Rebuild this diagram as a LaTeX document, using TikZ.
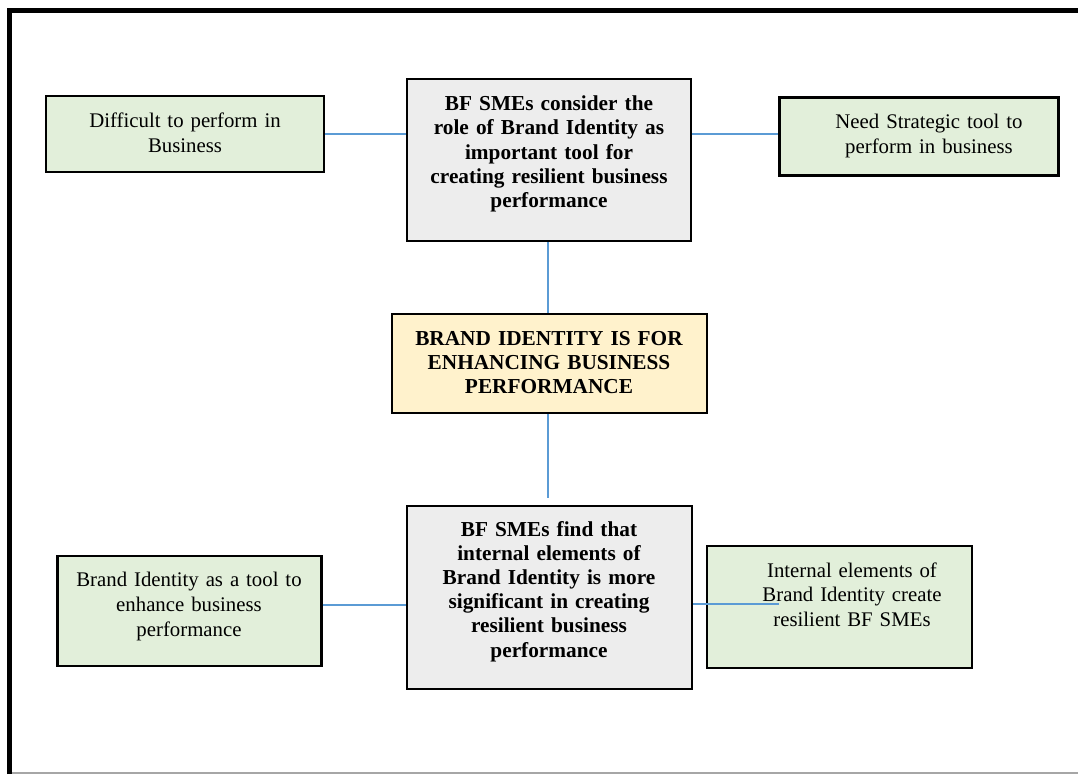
\documentclass[tikz,border=0pt]{standalone}
\usepackage{fontspec}
\setmainfont{Liberation Serif}
\definecolor{boxgreen}{HTML}{E2EFDA}
\definecolor{boxgray}{HTML}{EDEDED}
\definecolor{boxyellow}{HTML}{FFF2CC}
\definecolor{linkblue}{HTML}{5B9BD5}
\definecolor{framegray}{HTML}{A6A6A6}
\tikzset{
  boxbase/.style={draw=black, line width=2.4pt, rectangle, inner sep=0pt},
  greenbox/.style={boxbase, fill=boxgreen},
  graybox/.style={boxbase, fill=boxgray},
  yellowbox/.style={boxbase, fill=boxyellow},
  regtxt/.style={anchor=base, align=center, text width=320pt, inner sep=0pt,
    font={\fontsize{20.8}{24.8}\selectfont}},
  boldtxt/.style={anchor=base, align=center, text width=320pt, inner sep=0pt,
    font={\fontsize{21.3}{24.2}\selectfont\bfseries}},
  link/.style={draw=linkblue, line width=1.3pt},
}
\begin{document}
\begin{tikzpicture}[x=1pt, y=-1pt]
\useasboundingbox (0,0) rectangle (1078,774);
% outer frame
\draw[line width=5pt, line join=miter] (9,774) -- (9,10) -- (1078,10);
\draw[framegray, line width=1.2pt] (12,773) -- (1078,773);

% boxes
\node[greenbox, minimum width=278pt, minimum height=76pt] (tl) at (185,134) {};
\node[graybox, minimum width=284pt, minimum height=162pt] (tc) at (549,160) {};
\node[greenbox, minimum width=279pt, minimum height=78pt] (tr) at (919,136.5) {};
\node[yellowbox, minimum width=315pt, minimum height=99pt] (mid) at (549.5,363.5) {};
\node[graybox, minimum width=285pt, minimum height=183pt] (bc) at (549.5,597.3) {};
\node[greenbox, minimum width=264pt, minimum height=110pt] (bl) at (189.5,611) {};
\node[greenbox, minimum width=265pt, minimum height=122pt] (br) at (839.5,607) {};

% texts
\node[regtxt] (tlt) at (185,127.3) {Difficult to perform in\\Business};
\node[boldtxt] (tct) at (549,110.7) {BF SMEs consider the\\role of Brand Identity as\\important tool for\\creating resilient business\\performance};
\node[regtxt] (trt) at (929,128.3) {Need Strategic tool to\\perform in business};
\node[boldtxt] (midt) at (549,345) {BRAND IDENTITY IS FOR\\ENHANCING BUSINESS\\PERFORMANCE};
\node[boldtxt] (bct) at (549,536) {BF SMEs find that\\internal elements of\\Brand Identity is more\\significant in creating\\resilient business\\performance};
\node[regtxt] (blt) at (189,586.7) {Brand Identity as a tool to\\enhance business\\performance};
\node[regtxt] (brt) at (852,577) {Internal elements of\\Brand Identity create\\resilient BF SMEs};

% connectors
\coordinate (midend) at (548,498);
\coordinate (brend) at (779,604);
\draw[link] (tl.east) -- (tl.east -| tc.west);
\draw[link] (tl.east -| tc.east) -- (tl.east -| tr.west);
\draw[link] ([xshift=-1pt]tc.south) -- ([xshift=-1.5pt]mid.north);
\draw[link] ([xshift=-1.5pt]mid.south) -- (midend);
\draw[link] ([yshift=6pt]bl.east) -- ([yshift=6pt]bl.east -| bc.west);
\draw[link] (bc.east |- brend) -- (brend);
\end{tikzpicture}
\end{document}
